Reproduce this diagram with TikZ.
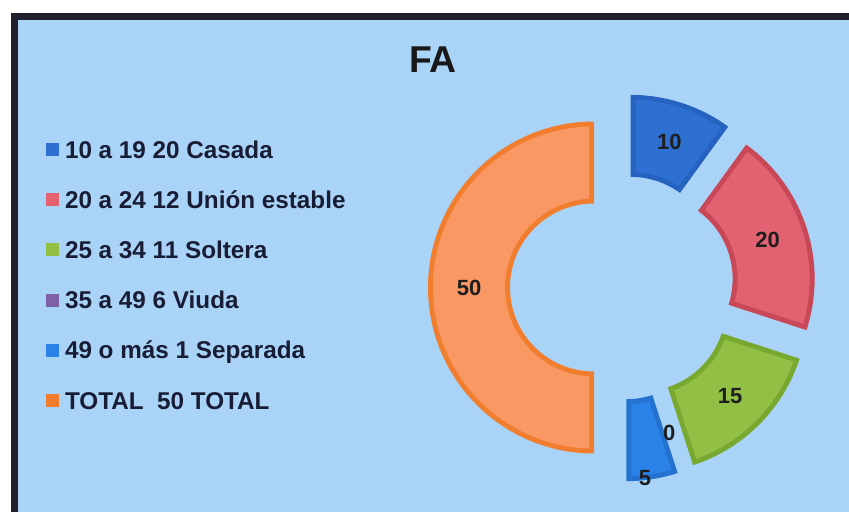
\documentclass[tikz,border=0pt]{standalone}
\usepackage{fontspec}
\setmainfont{Liberation Sans}
\usepackage{tikz}
\usetikzlibrary{positioning}
\definecolor{bgblue}{RGB}{170,212,247}
\definecolor{framedark}{RGB}{30,32,45}
\definecolor{textnavy}{RGB}{24,28,52}
\definecolor{labeldark}{RGB}{30,30,30}
\definecolor{blueA}{RGB}{46,112,210}
\definecolor{blueAline}{RGB}{38,98,192}
\definecolor{redA}{RGB}{226,98,114}
\definecolor{redAline}{RGB}{200,72,88}
\definecolor{greenA}{RGB}{146,192,68}
\definecolor{greenAline}{RGB}{120,168,48}
\definecolor{purpleA}{RGB}{125,96,166}
\definecolor{blueB}{RGB}{42,130,232}
\definecolor{blueBline}{RGB}{35,114,208}
\definecolor{orangeA}{RGB}{250,152,100}
\definecolor{orangeAline}{RGB}{241,126,46}
\tikzstyle{legmark} = [rectangle, inner sep=0pt, minimum size=9.75pt]
\tikzstyle{legtext} = [inner sep=0pt, text=textnavy, font=\fontsize{18.2}{20}\selectfont\bfseries, text height=13pt, text depth=0pt]
\tikzstyle{val} = [inner sep=0pt, text=labeldark, font=\fontsize{16.5}{18}\selectfont\bfseries]
\tikzstyle{titletext} = [inner sep=0pt, text=black!90, font=\fontsize{28}{30}\selectfont\bfseries]

\begin{document}
\begin{tikzpicture}[x=0.75pt, y=0.75pt, node distance=37.65pt]
        \useasboundingbox (0,0) rectangle (849,512);
        \fill[white] (0,0) rectangle (849,512);
        \fill[framedark] (11,0) rectangle (849,499);
        \fill[bgblue] (18,0) rectangle (849,492);
        \coordinate (ctr) at (622,224.5);
        \node[titletext] (title) at (433,452.5) {FA};
        % doughnut, every part pulled out from the centre
        % (rim colour first, then the lighter inside)
        \begin{scope}[shift={(ctr)}]
            \fill[blueAline, shift={(72:28)}] (54:84) -- (54:166) arc[start angle=54, end angle=90, radius=166] -- (90:84) arc[start angle=90, end angle=54, radius=84] -- cycle;
            \fill[blueA, shift={(72:28)}] (57.22:89) -- (55.78:161) arc[start angle=55.78, end angle=88.22, radius=161] -- (86.78:89) arc[start angle=86.78, end angle=57.22, radius=89] -- cycle;
            \fill[redAline, shift={(18:28)}] (-18:84) -- (-18:166) arc[start angle=-18, end angle=54, radius=166] -- (54:84) arc[start angle=54, end angle=-18, radius=84] -- cycle;
            \fill[redA, shift={(18:28)}] (-14.78:89) -- (-16.22:161) arc[start angle=-16.22, end angle=52.22, radius=161] -- (50.78:89) arc[start angle=50.78, end angle=-14.78, radius=89] -- cycle;
            \fill[greenAline, shift={(-45:28)}] (-72:84) -- (-72:166) arc[start angle=-72, end angle=-18, radius=166] -- (-18:84) arc[start angle=-18, end angle=-72, radius=84] -- cycle;
            \fill[greenA, shift={(-45:28)}] (-68.78:89) -- (-70.22:161) arc[start angle=-70.22, end angle=-19.78, radius=161] -- (-21.22:89) arc[start angle=-21.22, end angle=-68.78, radius=89] -- cycle;
            \fill[blueBline, shift={(-81:28)}] (-90:84) -- (-90:166) arc[start angle=-90, end angle=-72, radius=166] -- (-72:84) arc[start angle=-72, end angle=-90, radius=84] -- cycle;
            \fill[blueB, shift={(-81:28)}] (-86.78:89) -- (-88.22:161) arc[start angle=-88.22, end angle=-73.78, radius=161] -- (-75.22:89) arc[start angle=-75.22, end angle=-86.78, radius=89] -- cycle;
            \fill[orangeAline, shift={(180:28)}] (90:84) -- (90:166) arc[start angle=90, end angle=270, radius=166] -- (270:84) arc[start angle=270, end angle=90, radius=84] -- cycle;
            \fill[orangeA, shift={(180:28)}] (93.22:89) -- (91.78:161) arc[start angle=91.78, end angle=268.22, radius=161] -- (266.78:89) arc[start angle=266.78, end angle=93.22, radius=89] -- cycle;
            \node[val] (v10) at (72:153) {10};
            \node[val] (v20) at (18:153) {20};
            \node[val] (v15) at (-45:153) {15};
            \node[val] (v0) at (-72:153) {0};
            \node[val] (v5) at (23,-190.5) {5};
            \node[val] (v50) at (180:153) {50};
        \end{scope}
        % legend
        \node[legmark, fill=blueA] (mk1) at (52,362.5) {};
        \node[legmark, fill=redA, below of=mk1] (mk2) {};
        \node[legmark, fill=greenA, below of=mk2] (mk3) {};
        \node[legmark, fill=purpleA, below of=mk3] (mk4) {};
        \node[legmark, fill=blueB, below of=mk4] (mk5) {};
        \node[legmark, fill=orangeAline, below of=mk5] (mk6) {};
        \node[legtext, right=4.5pt of mk1] (lt1) {10 a 19 20 Casada};
        \node[legtext, right=4.5pt of mk2] (lt2) {20 a 24 12 Unión estable};
        \node[legtext, right=4.5pt of mk3] (lt3) {25 a 34 11 Soltera};
        \node[legtext, right=4.5pt of mk4] (lt4) {35 a 49 6 Viuda};
        \node[legtext, right=4.5pt of mk5] (lt5) {49 o más 1 Separada};
        \node[legtext, right=4.5pt of mk6] (lt6) {TOTAL\ \ 50 TOTAL};
\end{tikzpicture}
\end{document}
